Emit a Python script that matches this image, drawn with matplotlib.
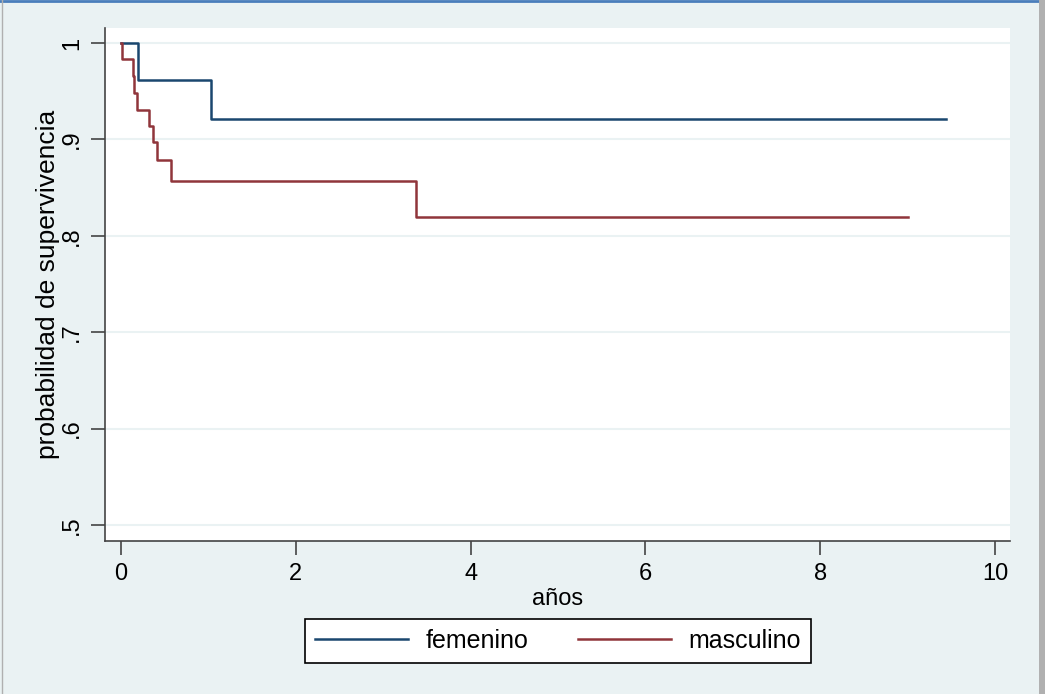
import matplotlib.pyplot as plt

plt.rcParams['font.family'] = ['Liberation Sans', 'DejaVu Sans']

# Curvas de supervivencia (Kaplan-Meier)
t_fem = [0, 0.198, 1.03, 9.44]
s_fem = [1.0, 0.962, 0.921, 0.921]

t_masc = [0, 0.015, 0.134, 0.152, 0.18, 0.324, 0.37, 0.41, 0.572, 3.375, 9.0]
s_masc = [1.0, 0.983, 0.966, 0.948, 0.931, 0.914, 0.897, 0.879, 0.857, 0.820, 0.820]

yticks = [0.5, 0.6, 0.7, 0.8, 0.9, 1.0]
ylabels = [".5", ".6", ".7", ".8", ".9", "1"]
xticks = [0, 2, 4, 6, 8, 10]

fondo = "#EAF2F3"
azul = "#1A476F"
granate = "#90353B"

fig = plt.figure(figsize=(10.45, 6.94), dpi=100, facecolor=fondo)
ax = fig.add_axes([0.1005, 0.2205, 0.866, 0.7392])
ax.set_facecolor("white")

ax.step(t_fem, s_fem, where="post", color=azul, lw=1.8, label="femenino")
ax.step(t_masc, s_masc, where="post", color=granate, lw=1.8, label="masculino")

ax.set_xlim(-0.183, 10.17)
ax.set_ylim(0.4834, 1.0156)
ax.set_yticks(yticks)
ax.set_yticklabels(ylabels, rotation=90, va="center")
ax.set_xticks(xticks)
ax.grid(axis="y", color=fondo, lw=1.5)
ax.set_axisbelow(True)

for lado in ["top", "right"]:
    ax.spines[lado].set_visible(False)
for lado in ["left", "bottom"]:
    ax.spines[lado].set_color("#444444")
    ax.spines[lado].set_linewidth(1.2)

ax.tick_params(axis="both", length=10, width=1.2, color="#444444", labelsize=17, pad=6)
ax.set_xlabel("años", fontsize=17, labelpad=2)
ax.set_ylabel("probabilidad de supervivencia", fontsize=19)
ax.yaxis.set_label_coords(-0.05, 0.5)

leg = fig.legend(loc="center", bbox_to_anchor=(0.534, 0.077), ncol=2, fontsize=18,
                 frameon=True, fancybox=False, edgecolor="black", framealpha=1,
                 handlelength=3.7, columnspacing=2.0, borderpad=0.4, handletextpad=0.7)
leg.get_frame().set_linewidth(1.2)

# Borde de la ventana
fig.add_artist(plt.Line2D([0, 1], [0.999, 0.999], color="#4A7EBB", lw=2, transform=fig.transFigure))
fig.add_artist(plt.Line2D([0.997, 0.997], [0, 1], color="#B0B0B0", lw=5, transform=fig.transFigure))
fig.add_artist(plt.Line2D([0.002, 0.002], [0, 1], color="#B0B0B0", lw=1, transform=fig.transFigure))

fig.savefig("out.png", dpi=100, facecolor=fondo)
